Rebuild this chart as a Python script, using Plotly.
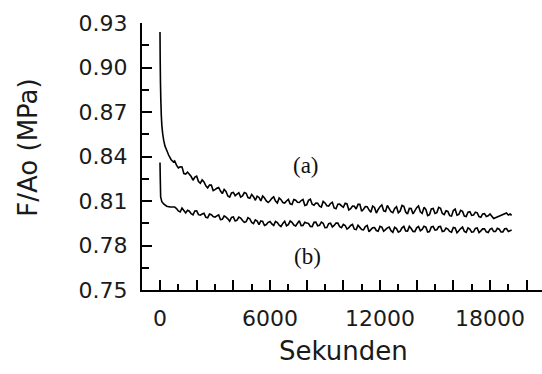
import plotly.graph_objects as go

# ---------------- Curve (a) ----------------
t_a = ([0, 10, 25, 45, 70, 100, 145, 200, 270, 365, 470, 600, 727]
       + list(range(800, 18001, 100))
       + [18200, 18900, 19000, 19100, 19180])
v_a = [0.924, 0.905, 0.890, 0.878, 0.868, 0.861, 0.8555, 0.851, 0.847, 0.8442, 0.841, 0.838, 0.8363,
       # 800 .. 18000 (step 100)
       0.8370, 0.8342, 0.8323, 0.8331, 0.8330, 0.8285, 0.8282, 0.8295, 0.8281, 0.8265,
       0.8240, 0.8261, 0.8267, 0.8231, 0.8220, 0.8242, 0.8229, 0.8202, 0.8188, 0.8207,
       0.8208, 0.8170, 0.8177, 0.8186, 0.8191, 0.8167, 0.8150, 0.8178, 0.8165, 0.8134,
       0.8126, 0.8155, 0.8158, 0.8136, 0.8146, 0.8155, 0.8126, 0.8134, 0.8157, 0.8152,
       0.8123, 0.8118, 0.8144, 0.8129, 0.8105, 0.8132, 0.8124, 0.8101, 0.8134, 0.8120,
       0.8101, 0.8090, 0.8102, 0.8118, 0.8128, 0.8099, 0.8086, 0.8121, 0.8109, 0.8090,
       0.8086, 0.8100, 0.8111, 0.8081, 0.8076, 0.8110, 0.8105, 0.8092, 0.8090, 0.8103,
       0.8110, 0.8070, 0.8074, 0.8104, 0.8112, 0.8078, 0.8072, 0.8086, 0.8085, 0.8065,
       0.8059, 0.8097, 0.8087, 0.8068, 0.8066, 0.8083, 0.8092, 0.8053, 0.8048, 0.8078,
       0.8079, 0.8067, 0.8058, 0.8085, 0.8080, 0.8040, 0.8048, 0.8066, 0.8064, 0.8046,
       0.8077, 0.8077, 0.8031, 0.8044, 0.8063, 0.8062, 0.8040, 0.8024, 0.8066, 0.8057,
       0.8019, 0.8043, 0.8062, 0.8074, 0.8034, 0.8029, 0.8070, 0.8049, 0.8028, 0.8021,
       0.8050, 0.8061, 0.8021, 0.8032, 0.8070, 0.8064, 0.8026, 0.8012, 0.8050, 0.8049,
       0.8013, 0.8034, 0.8055, 0.8067, 0.8027, 0.8017, 0.8057, 0.8043, 0.8002, 0.8008,
       0.8047, 0.8050, 0.8016, 0.8021, 0.8057, 0.8051, 0.8016, 0.8008, 0.8034, 0.8030,
       0.8001, 0.7998, 0.8036, 0.8045, 0.8004, 0.8010, 0.8037, 0.8030, 0.7998, 0.7995,
       0.8025, 0.8028, 0.8003, 0.8005, 0.8025, 0.8020, 0.7995, 0.7990, 0.8013, 0.8015,
       0.7995, 0.8000, 0.8012,
       # tail
       0.7982, 0.8019, 0.8006, 0.8012, 0.8003]

# ---------------- Curve (b) ----------------
t_b = ([0, 15, 35, 100, 200, 365, 550]
       + list(range(800, 19001, 100))
       + [19180])
v_b = [0.836, 0.825, 0.8127, 0.8095, 0.808, 0.8065, 0.806,
       # 800 .. 19000 (step 100)
       0.8060, 0.8049, 0.8033, 0.8026, 0.8052, 0.8036, 0.8020, 0.8038, 0.8031, 0.8014,
       0.8007, 0.8033, 0.8034, 0.8008, 0.8004, 0.8012, 0.8017, 0.7990, 0.7987, 0.8012,
       0.8007, 0.7995, 0.7991, 0.8000, 0.8006, 0.7974, 0.7976, 0.7999, 0.7991, 0.7980,
       0.7964, 0.7989, 0.7992, 0.7965, 0.7971, 0.7992, 0.7985, 0.7968, 0.7956, 0.7961,
       0.7988, 0.7979, 0.7956, 0.7948, 0.7973, 0.7965, 0.7941, 0.7966, 0.7963, 0.7935,
       0.7941, 0.7956, 0.7962, 0.7945, 0.7935, 0.7963, 0.7955, 0.7937, 0.7928, 0.7949,
       0.7963, 0.7933, 0.7941, 0.7965, 0.7956, 0.7938, 0.7932, 0.7950, 0.7967, 0.7934,
       0.7935, 0.7956, 0.7951, 0.7948, 0.7928, 0.7927, 0.7956, 0.7957, 0.7933, 0.7936,
       0.7958, 0.7950, 0.7920, 0.7921, 0.7947, 0.7950, 0.7925, 0.7935, 0.7951, 0.7951,
       0.7927, 0.7920, 0.7942, 0.7935, 0.7911, 0.7920, 0.7935, 0.7942, 0.7910, 0.7907,
       0.7936, 0.7922, 0.7908, 0.7906, 0.7928, 0.7935, 0.7893, 0.7907, 0.7920, 0.7921,
       0.7901, 0.7896, 0.7929, 0.7924, 0.7896, 0.7907, 0.7919, 0.7924, 0.7900, 0.7889,
       0.7923, 0.7914, 0.7890, 0.7897, 0.7919, 0.7929, 0.7898, 0.7897, 0.7929, 0.7914,
       0.7895, 0.7893, 0.7919, 0.7928, 0.7899, 0.7908, 0.7930, 0.7924, 0.7891, 0.7894,
       0.7925, 0.7928, 0.7904, 0.7906, 0.7926, 0.7929, 0.7894, 0.7897, 0.7918, 0.7911,
       0.7895, 0.7890, 0.7922, 0.7918, 0.7886, 0.7899, 0.7914, 0.7924, 0.7895, 0.7889,
       0.7918, 0.7911, 0.7890, 0.7892, 0.7915, 0.7918, 0.7887, 0.7899, 0.7912, 0.7913,
       0.7892, 0.7887, 0.7909, 0.7916, 0.7894, 0.7894, 0.7916, 0.7910, 0.7891, 0.7891,
       0.7913, 0.7914, 0.7895,
       # tail
       0.7905]

assert len(t_a) == len(v_a), (len(t_a), len(v_a))
assert len(t_b) == len(v_b), (len(t_b), len(v_b))

x_tickvals = [0, 2000, 4000, 6000, 8000, 10000, 12000, 14000, 16000, 18000, 20000]
x_ticktext = ["0", "", "", "6000", "", "", "12000", "", "", "18000", ""]
y_tickvals = [0.75, 0.78, 0.81, 0.84, 0.87, 0.90, 0.93]
y_ticktext = ["0.75", "0.78", "0.81", "0.84", "0.87", "0.90", "0.93"]

fig = go.Figure()
fig.add_trace(go.Scatter(x=t_a, y=v_a, mode="lines",
                         line=dict(color="black", width=1.6, simplify=False), showlegend=False))
fig.add_trace(go.Scatter(x=t_b, y=v_b, mode="lines",
                         line=dict(color="black", width=1.6, simplify=False), showlegend=False))

font_sans = "DejaVu Sans"
fig.update_layout(
    width=542, height=374,
    margin=dict(l=142, r=0, t=23, b=84),
    paper_bgcolor="white", plot_bgcolor="white",
    xaxis=dict(range=[-982, 20836], tickvals=x_tickvals, ticktext=x_ticktext,
               ticks="inside", ticklen=10, tickwidth=1.5, tickcolor="black",
               minor=dict(dtick=1000, tick0=0, ticks="inside", ticklen=6, tickwidth=1.5, tickcolor="black"),
               showline=True, linecolor="black", linewidth=2, showgrid=False, zeroline=False,
               tickfont=dict(family=font_sans, size=22, color="#1a1a1a"), ticklabelstandoff=8),
    yaxis=dict(range=[0.75, 0.93], tickvals=y_tickvals, ticktext=y_ticktext,
               ticks="inside", ticklen=10, tickwidth=1.5, tickcolor="black",
               minor=dict(dtick=0.015, tick0=0.75, ticks="inside", ticklen=7, tickwidth=1.5, tickcolor="black"),
               showline=True, linecolor="black", linewidth=2, showgrid=False, zeroline=False,
               tickfont=dict(family=font_sans, size=22, color="#1a1a1a"), ticklabelstandoff=8),
    annotations=[
        dict(text="F/Ao (MPa)", xref="paper", yref="paper", x=-0.285, y=0.533,
             textangle=-90, showarrow=False, xanchor="center", yanchor="middle",
             font=dict(family=font_sans, size=26, color="#1a1a1a")),
        dict(text="Sekunden", xref="paper", yref="paper", x=0.5025, y=-0.228,
             showarrow=False, xanchor="center", yanchor="middle",
             font=dict(family=font_sans, size=26, color="#1a1a1a")),
        dict(text="(a)", x=7964, y=0.8341, showarrow=False, xanchor="center", yanchor="middle",
             font=dict(family="Liberation Serif", size=23, color="#111")),
        dict(text="(b)", x=8018, y=0.7727, showarrow=False, xanchor="center", yanchor="middle",
             font=dict(family="Liberation Serif", size=23, color="#111")),
    ],
)

fig.write_html("out.html")
